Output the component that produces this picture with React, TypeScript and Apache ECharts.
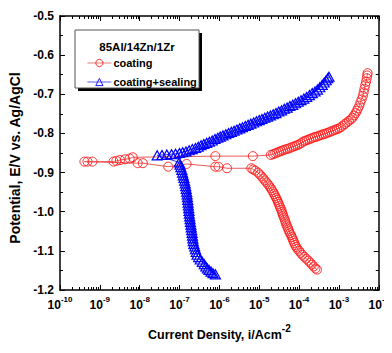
import { useEffect, useRef } from 'react';
import * as echarts from 'echarts';

// Tick label exponents for the log current-density axis (10^n)
const decadeExponents = [-10, -9, -8, -7, -6, -5, -4, -3, -2];
const potentialMin = -1.2;
const potentialMax = -0.5;
const potentialStep = 0.1;

// 85Al/14Zn/1Zr coating — scan order (cathodic -> Ecorr -> anodic)
const coatingCurrent = [
  2.82e-4, 2.57e-4, 2.34e-4, 2.09e-4, 1.91e-4, 1.70e-4, 1.51e-4, 1.35e-4, 1.20e-4, 1.10e-4,
  1.00e-4, 9.12e-5, 8.51e-5, 7.94e-5, 7.59e-5, 7.24e-5, 6.92e-5, 6.61e-5, 6.31e-5, 5.89e-5,
  5.62e-5, 5.37e-5, 5.13e-5, 4.90e-5, 4.68e-5, 4.52e-5, 4.37e-5, 4.17e-5, 3.98e-5, 3.85e-5,
  3.72e-5, 3.55e-5, 3.39e-5, 3.24e-5, 3.09e-5, 2.95e-5, 2.82e-5, 2.66e-5, 2.51e-5, 2.37e-5,
  2.24e-5, 2.09e-5, 1.95e-5, 1.80e-5, 1.66e-5, 1.51e-5, 1.38e-5, 1.26e-5, 1.15e-5, 1.03e-5,
  9.33e-6, 7.94e-6, 7.08e-6, 6.31e-6,
  1.55e-6, 9.5e-7, 7.9e-7, 1.5e-7, 5.2e-8, 1.2e-8, 8.9e-9, 4.1e-10, 4.9e-10, 6.5e-10,
  2.2e-9, 2.6e-9, 3.2e-9, 4.3e-9, 5.6e-9, 6.7e-9, 7.9e-7, 6.9e-6,
  1.95e-5, 2.24e-5, 2.51e-5, 2.82e-5, 3.16e-5, 3.55e-5, 3.98e-5, 4.47e-5, 5.01e-5, 5.62e-5,
  6.31e-5, 7.08e-5, 7.94e-5, 8.91e-5, 1.00e-4, 1.12e-4, 1.26e-4, 1.41e-4, 1.58e-4, 1.78e-4,
  2.00e-4, 2.24e-4, 2.51e-4, 2.82e-4, 3.16e-4, 3.55e-4, 3.98e-4, 4.47e-4, 5.01e-4, 5.62e-4,
  6.31e-4, 7.08e-4, 7.94e-4, 8.91e-4, 1.00e-3, 1.12e-3, 1.26e-3, 1.41e-3, 1.58e-3, 1.78e-3,
  2.00e-3, 2.19e-3, 2.40e-3, 2.63e-3, 2.82e-3, 3.02e-3, 3.24e-3, 3.47e-3, 3.72e-3, 3.98e-3,
  4.17e-3, 4.37e-3, 4.57e-3, 4.79e-3, 5.01e-3, 5.13e-3, 5.25e-3,
];
const coatingPotential = [
  -1.148, -1.145, -1.140, -1.135, -1.130, -1.125, -1.120, -1.115, -1.110, -1.105,
  -1.100, -1.095, -1.090, -1.085, -1.080, -1.075, -1.070, -1.065, -1.060, -1.055,
  -1.050, -1.045, -1.040, -1.035, -1.030, -1.025, -1.020, -1.015, -1.010, -1.005,
  -1.000, -0.995, -0.990, -0.985, -0.980, -0.975, -0.970, -0.965, -0.960, -0.955,
  -0.950, -0.945, -0.940, -0.935, -0.930, -0.925, -0.920, -0.915, -0.910, -0.905,
  -0.900, -0.895, -0.892, -0.889,
  -0.889, -0.885, -0.885, -0.878, -0.885, -0.876, -0.876, -0.872, -0.872, -0.872,
  -0.872, -0.870, -0.868, -0.866, -0.864, -0.861, -0.858, -0.858,
  -0.855, -0.853, -0.851, -0.849, -0.847, -0.845, -0.843, -0.841, -0.840, -0.838,
  -0.836, -0.834, -0.832, -0.830, -0.828, -0.825, -0.821, -0.819, -0.817, -0.815,
  -0.813, -0.811, -0.809, -0.808, -0.806, -0.804, -0.802, -0.801, -0.799, -0.797,
  -0.795, -0.793, -0.791, -0.789, -0.787, -0.784, -0.780, -0.776, -0.772, -0.768,
  -0.764, -0.760, -0.754, -0.748, -0.742, -0.736, -0.729, -0.721, -0.713, -0.704,
  -0.695, -0.686, -0.677, -0.668, -0.659, -0.652, -0.646,
];

// coating + sealing — scan order (cathodic -> Ecorr -> anodic)
const sealingCurrent = [
  7.94e-7, 6.92e-7, 6.17e-7, 5.50e-7, 5.01e-7, 4.57e-7, 4.17e-7, 3.72e-7, 3.31e-7, 3.02e-7,
  2.75e-7, 2.63e-7, 2.51e-7, 2.40e-7, 2.29e-7, 2.21e-7, 2.16e-7, 2.11e-7, 2.07e-7, 2.02e-7,
  1.97e-7, 1.93e-7, 1.88e-7, 1.84e-7, 1.80e-7, 1.76e-7, 1.73e-7, 1.70e-7, 1.67e-7, 1.64e-7,
  1.61e-7, 1.58e-7, 1.55e-7, 1.51e-7, 1.47e-7, 1.43e-7, 1.39e-7, 1.34e-7, 1.29e-7, 1.24e-7,
  1.19e-7, 1.14e-7, 1.08e-7, 1.03e-7, 9.77e-8,
  2.75e-8, 3.63e-8, 4.79e-8, 6.31e-8, 7.94e-8, 1.00e-7, 1.20e-7, 1.45e-7, 1.74e-7, 2.09e-7,
  2.51e-7, 2.95e-7, 3.47e-7, 4.07e-7, 4.79e-7, 5.62e-7, 6.61e-7, 7.76e-7, 9.12e-7, 1.05e-6,
  1.23e-6, 1.45e-6, 1.70e-6, 2.00e-6, 2.34e-6, 2.75e-6, 3.24e-6, 3.80e-6, 4.47e-6, 5.25e-6,
  6.17e-6, 7.24e-6, 8.51e-6, 1.00e-5, 1.17e-5, 1.38e-5, 1.62e-5, 1.91e-5, 2.24e-5, 2.63e-5,
  3.09e-5, 3.63e-5, 4.27e-5, 5.01e-5, 5.89e-5, 6.92e-5, 8.13e-5, 9.55e-5, 1.12e-4, 1.32e-4,
  1.55e-4, 1.82e-4, 2.14e-4, 2.51e-4, 2.88e-4, 3.31e-4, 3.80e-4, 4.27e-4, 4.79e-4, 5.25e-4,
  5.62e-4,
];
const sealingPotential = [
  -1.160, -1.157, -1.153, -1.149, -1.145, -1.140, -1.134, -1.128, -1.122, -1.116,
  -1.110, -1.103, -1.096, -1.089, -1.082, -1.075, -1.068, -1.061, -1.054, -1.047,
  -1.040, -1.033, -1.026, -1.019, -1.012, -1.005, -0.998, -0.991, -0.984, -0.977,
  -0.970, -0.963, -0.956, -0.949, -0.942, -0.935, -0.928, -0.921, -0.914, -0.907,
  -0.900, -0.893, -0.886, -0.880, -0.874,
  -0.856, -0.855, -0.854, -0.853, -0.852, -0.850, -0.848, -0.846, -0.843, -0.840,
  -0.837, -0.834, -0.830, -0.827, -0.824, -0.821, -0.818, -0.814, -0.811, -0.808,
  -0.805, -0.802, -0.799, -0.796, -0.793, -0.790, -0.787, -0.784, -0.781, -0.778,
  -0.775, -0.772, -0.769, -0.766, -0.763, -0.760, -0.757, -0.754, -0.751, -0.748,
  -0.744, -0.741, -0.737, -0.734, -0.730, -0.727, -0.723, -0.719, -0.715, -0.711,
  -0.707, -0.702, -0.697, -0.693, -0.688, -0.682, -0.676, -0.670, -0.664, -0.659,
  -0.655,
];

const FONT = '"Liberation Sans", Arial, Helvetica, sans-serif';
const RED = '#ff1a1a';
const BLUE = '#0000ff';

export default function App() {
  const ref = useRef<HTMLDivElement>(null);

  useEffect(() => {
    if (!ref.current) return;
    const chart = echarts.init(ref.current, null, { renderer: 'svg' });

    const majorX = decadeExponents.map((e) => Math.pow(10, e));
    const minorX: number[] = [];
    decadeExponents.slice(0, -1).forEach((e) => {
      for (let m = 2; m <= 9; m++) minorX.push(m * Math.pow(10, e));
    });

    const lineStyle = { color: '#000', width: 1.5 };
    const baseX = {
      type: 'log',
      logBase: 10,
      min: 1e-10,
      max: 1e-2,
      splitLine: { show: false },
      axisLine: { show: true, lineStyle },
    };
    const baseY = {
      type: 'value',
      min: potentialMin,
      max: potentialMax,
      interval: potentialStep,
      splitLine: { show: false },
      axisLine: { show: true, lineStyle },
      axisTick: { show: true, inside: true, length: 5, lineStyle: { color: '#000', width: 1 } },
      minorTick: { show: true, splitNumber: 2, length: 3, lineStyle: { color: '#000', width: 1 } },
    };

    const coatingData = coatingCurrent.map((c, i) => [c, coatingPotential[i]]);
    const sealingData = sealingCurrent.map((c, i) => [c, sealingPotential[i]]);

    chart.setOption({
      animation: false,
      backgroundColor: '#fff',
      grid: { left: 60, right: 4, top: 16, bottom: 63, containLabel: false },
      xAxis: [
        {
          ...baseX,
          position: 'bottom',
          axisTick: { show: true, inside: true, length: 5, customValues: majorX, lineStyle: { color: '#000', width: 1 } },
          axisLabel: {
            show: true,
            customValues: majorX,
            margin: 5,
            formatter: (v: number) => `{b|10}{s|${Math.round(Math.log10(v))}}`,
            rich: {
              b: { fontFamily: FONT, fontWeight: 'bold', fontSize: 12, color: '#000', lineHeight: 16, verticalAlign: 'bottom' },
              s: { fontFamily: FONT, fontWeight: 'bold', fontSize: 8, color: '#000', lineHeight: 9, verticalAlign: 'top' },
            },
          },
          name: '{b|Current Density, i/Acm}{s|-2}',
          nameLocation: 'middle',
          nameGap: 33,
          nameTextStyle: {
            rich: {
              b: { fontFamily: FONT, fontWeight: 'bold', fontSize: 12.5, color: '#000', lineHeight: 18, verticalAlign: 'bottom' },
              s: { fontFamily: FONT, fontWeight: 'bold', fontSize: 10, color: '#000', lineHeight: 10, verticalAlign: 'top' },
            },
          },
        },
        {
          ...baseX,
          position: 'bottom',
          axisLine: { show: false },
          axisTick: { show: true, inside: true, length: 3, customValues: minorX, lineStyle: { color: '#000', width: 1 } },
          axisLabel: { show: false },
        },
        {
          ...baseX,
          position: 'top',
          axisTick: { show: true, inside: true, length: 5, customValues: majorX, lineStyle: { color: '#000', width: 1 } },
          axisLabel: { show: false },
        },
        {
          ...baseX,
          position: 'top',
          axisLine: { show: false },
          axisTick: { show: true, inside: true, length: 3, customValues: minorX, lineStyle: { color: '#000', width: 1 } },
          axisLabel: { show: false },
        },
      ],
      yAxis: [
        {
          ...baseY,
          position: 'left',
          axisLabel: {
            show: true,
            margin: 6,
            formatter: (v: number) => v.toFixed(1),
            fontFamily: FONT,
            fontWeight: 'bold',
            fontSize: 12,
            color: '#000',
          },
          name: 'Potential, E/V vs. Ag/AgCl',
          nameLocation: 'middle',
          nameRotate: 90,
          nameGap: 29,
          nameTextStyle: { fontFamily: FONT, fontWeight: 'bold', fontSize: 14, color: '#000', padding: [0, 0, 0, -10] },
        },
        {
          ...baseY,
          position: 'right',
          axisLabel: { show: false },
        },
      ],
      legend: {
        orient: 'vertical',
        left: 87,
        top: 57,
        padding: 0,
        z: 10,
        itemWidth: 24,
        itemHeight: 9,
        itemGap: 7,
        itemStyle: { borderWidth: 0.9 },
        lineStyle: { width: 0.8 },
        textStyle: { fontFamily: FONT, fontWeight: 'bold', fontSize: 11, color: '#000', lineHeight: 12, padding: [0, 0, 0, -3] },
        data: ['coating', 'coating+sealing'],
      },
      graphic: [
        { type: 'rect', z: 5, shape: { x: 78, y: 33, width: 124, height: 58 }, style: { fill: '#000' } },
        { type: 'rect', z: 6, shape: { x: 75, y: 30, width: 124, height: 58 }, style: { fill: '#fff', stroke: '#555', lineWidth: 1 } },
        {
          type: 'text',
          z: 7,
          x: 137,
          y: 47,
          style: {
            text: '85Al/14Zn/1Zr',
            fontFamily: FONT,
            fontWeight: 'bold',
            fontSize: 11.5,
            fill: '#000',
            align: 'center',
            verticalAlign: 'middle',
          },
        },
      ],
      series: [
        {
          name: 'coating',
          type: 'line',
          xAxisIndex: 0,
          yAxisIndex: 0,
          data: coatingData,
          showAllSymbol: true,
          symbol: 'circle',
          symbolSize: 9,
          itemStyle: { color: 'rgba(255,255,255,0)', borderColor: RED, borderWidth: 0.9 },
          lineStyle: { color: '#e85a5a', width: 1 },
          emphasis: { disabled: true },
        },
        {
          name: 'coating+sealing',
          type: 'line',
          xAxisIndex: 0,
          yAxisIndex: 0,
          data: sealingData,
          showAllSymbol: true,
          symbol: 'triangle',
          symbolSize: [10, 9],
          itemStyle: { color: 'rgba(255,255,255,0)', borderColor: BLUE, borderWidth: 1.2 },
          lineStyle: { color: '#3333ee', width: 1 },
          emphasis: { disabled: true },
        },
      ],
    });

    return () => chart.dispose();
  }, []);

  return <div ref={ref} style={{ width: 392, height: 353, margin: -8 }} />;
}
